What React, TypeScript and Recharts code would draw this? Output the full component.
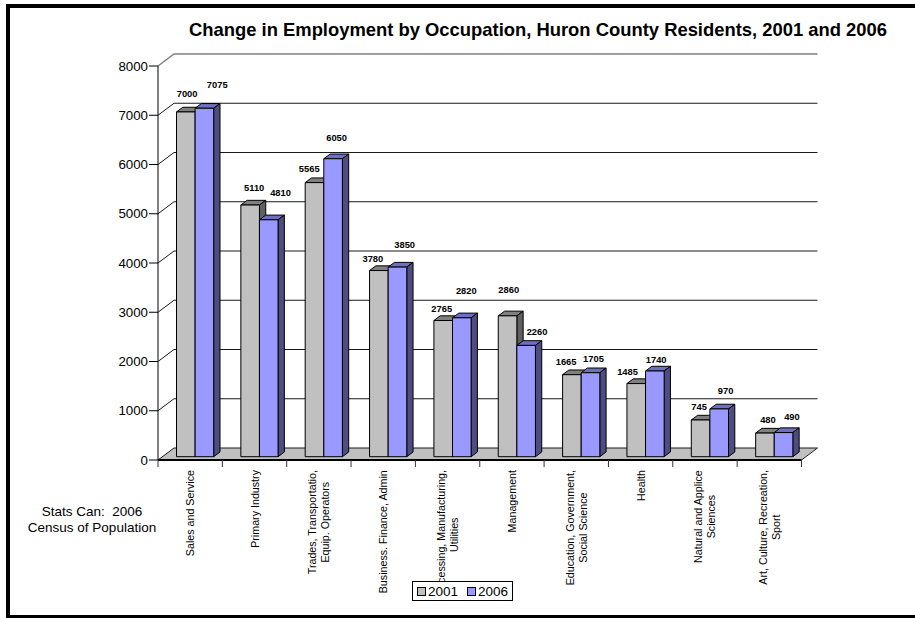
import { BarChart, Bar, XAxis, YAxis, CartesianGrid, Legend, LabelList } from "recharts";

const categories = [
  "Sales and Service",
  "Primary Industry",
  "Trades, Transportatio,\nEquip. Operators",
  "Business. Finance, Admin",
  "Processing, Manufacturing,\nUtilities",
  "Management",
  "Education, Government,\nSocial Science",
  "Health",
  "Natural and Applice\nSciences",
  "Art, Culture, Recreation,\nSport",
];
const values2001 = [7000, 5110, 5565, 3780, 2765, 2860, 1665, 1485, 745, 480];
const values2006 = [7075, 4810, 6050, 3850, 2820, 2260, 1705, 1740, 970, 490];
const yTicks = [0, 1000, 2000, 3000, 4000, 5000, 6000, 7000, 8000];

// the value labels were hand placed in the original, so each one has its own nudge
const nudges2001 = [[1.3, -18.3], [4, -17.3], [-5.3, -13.9], [-6, -11.2], [-1.5, -11.8], [1.2, -26.1], [-5.8, -13], [-8.7, -11.9], [-1.5, -13.3], [3, -13.4]];
const nudges2006 = [[12.8, -23.6], [11.8, -27.1], [3.5, -21], [7.2, -22.4], [4.5, -27.1], [10.9, -13.7], [3, -14], [1.3, -11.3], [6.4, -18.2], [8.4, -15.9]];

const FONT = "'Liberation Sans', Arial, sans-serif";
const PLOT_LEFT = 158;
const PLOT_RIGHT = 801.5;
const PLOT_TOP = 66;
const PLOT_BOTTOM = 460;
const BAND = (PLOT_RIGHT - PLOT_LEFT) / categories.length;
// depth of the fake 3D box, and of each bar inside it
const WALL_DX = 16;
const WALL_DY = -12;
const BAR_SHIFT_X = 4.5;
const BAR_SHIFT_Y = -3.3;
const BAR_DX = 6.3;
const BAR_DY = -4.7;

const tableData = categories.map((name, i) => ({
  name,
  v2001: values2001[i],
  v2006: values2006[i],
}));

const measureCtx = document.createElement("canvas").getContext("2d");

function textWidth(s: string) {
  if (!measureCtx) return s.length * 5;
  measureCtx.font = `10.7px ${FONT}`;
  return measureCtx.measureText(s).width;
}

function GridLine(props: any) {
  const { x1, x2, y1 } = props;
  const bx1 = x1 + WALL_DX;
  const bx2 = x2 + WALL_DX;
  const by = y1 + WALL_DY;
  const isFloor = Math.abs(y1 - PLOT_BOTTOM) < 1;
  const isTop = Math.abs(y1 - PLOT_TOP) < 1;
  return (
    <g key={props.key ?? y1}>
      {isFloor && (
        <polygon
          points={`${x1},${y1} ${x2},${y1} ${bx2},${by} ${bx1},${by}`}
          fill="#c0c0c0"
          stroke="none"
        />
      )}
      <polyline
        points={`${x1},${y1} ${bx1},${by} ${bx2},${by}`}
        fill="none"
        stroke={isTop ? "#808080" : "#1a1a1a"}
        strokeWidth={isTop ? 1.5 : 1}
      />
      {isFloor && <line x1={bx2} y1={by} x2={x2} y2={y1} stroke="#222" />}
    </g>
  );
}

function Bar3D(props: any) {
  const { x, y, width, height, fill, topFill, sideFill } = props;
  const l = x + BAR_SHIFT_X;
  const r = l + width;
  const t = y + BAR_SHIFT_Y;
  const b = t + height;
  return (
    <g stroke="#000" strokeWidth={1} strokeLinejoin="round">
      <polygon
        points={`${l},${t} ${l + BAR_DX},${t + BAR_DY} ${r + BAR_DX},${t + BAR_DY} ${r},${t}`}
        fill={topFill}
      />
      <polygon
        points={`${r},${t} ${r + BAR_DX},${t + BAR_DY} ${r + BAR_DX},${b + BAR_DY} ${r},${b}`}
        fill={sideFill}
      />
      <rect x={l} y={t} width={width} height={height} fill={fill} />
    </g>
  );
}

function valueLabel(nudges: number[][]) {
  return (props: any) => {
    const { x, y, width, value, index } = props;
    const [dx, dy] = nudges[index];
    return (
      <text
        x={x + BAR_SHIFT_X + width / 2 + dx}
        y={y + BAR_SHIFT_Y + dy}
        textAnchor="middle"
        dominantBaseline="central"
        fontFamily={FONT}
        fontSize={9.33}
        fontWeight="bold"
        fill="#000"
      >
        {value}
      </text>
    );
  };
}

function CategoryTick(props: any) {
  const { x, payload, index } = props;
  const lines = String(payload.value).split("\n");
  const left = x - BAND / 2;
  const widest = Math.max(...lines.map(textWidth));
  const cy = 470 + widest / 2;
  return (
    <g>
      <line x1={left} y1={PLOT_BOTTOM} x2={left} y2={PLOT_BOTTOM + 7} stroke="#333" />
      {index === categories.length - 1 && (
        <line x1={left + BAND} y1={PLOT_BOTTOM} x2={left + BAND} y2={PLOT_BOTTOM + 7} stroke="#333" />
      )}
      {lines.map((line, i) => {
        const lx = x + (i - (lines.length - 1) / 2) * 13;
        return (
          <text
            key={line}
            x={lx}
            y={cy}
            transform={`rotate(-90 ${lx} ${cy})`}
            textAnchor="middle"
            dominantBaseline="central"
            fontFamily={FONT}
            fontSize={10.7}
            fill="#000"
          >
            {line}
          </text>
        );
      })}
    </g>
  );
}

function LegendBox({ payload }: any) {
  return (
    <div
      style={{
        boxSizing: "border-box",
        width: 101,
        height: 20,
        border: "1px solid #000",
        background: "#fff",
        display: "flex",
        alignItems: "center",
        paddingLeft: 4,
        fontFamily: FONT,
        fontSize: 13.5,
        color: "#000",
      }}
    >
      {(payload ?? []).map((p: any) => (
        <span key={p.value} style={{ display: "flex", alignItems: "center", marginRight: 9 }}>
          <span
            style={{
              display: "inline-block",
              boxSizing: "border-box",
              width: 9,
              height: 9,
              border: "1px solid #000",
              background: p.color,
              marginRight: 2,
            }}
          />
          {p.value}
        </span>
      ))}
    </div>
  );
}

export default function App() {
  return (
    <div style={{ position: "absolute", left: 0, top: 0, width: 915, height: 618, overflow: "hidden", background: "#fff" }}>
      <div
        style={{
          position: "absolute",
          left: 6,
          top: 4,
          right: 0,
          bottom: 0,
          boxSizing: "border-box",
          borderLeft: "4px solid #000",
          borderTop: "4px solid #000",
          borderBottom: "3px solid #000",
        }}
      />
      <div
        style={{
          position: "absolute",
          left: 188,
          top: 21,
          width: 700,
          textAlign: "center",
          whiteSpace: "nowrap",
          fontFamily: FONT,
          fontSize: 18.4,
          fontWeight: "bold",
          lineHeight: "18px",
          color: "#000",
        }}
      >
        Change in Employment by Occupation, Huron County Residents, 2001 and 2006
      </div>
      <div
        style={{
          position: "absolute",
          left: 12,
          top: 504,
          width: 160,
          textAlign: "center",
          fontFamily: FONT,
          fontSize: 13.5,
          lineHeight: "16px",
          color: "#000",
        }}
      >
        Stats Can:&nbsp; 2006
        <br />
        Census of Population
      </div>
      <BarChart
        width={915}
        height={618}
        data={tableData}
        margin={{ top: PLOT_TOP, right: 915 - PLOT_RIGHT, bottom: 0, left: 0 }}
        barSize={18.6}
        barGap={0}
        style={{ position: "absolute", left: 0, top: 0 }}
      >
        <CartesianGrid horizontal={GridLine as any} vertical={false} />
        <XAxis
          dataKey="name"
          height={618 - PLOT_BOTTOM}
          interval={0}
          tickLine={false}
          tickSize={0}
          axisLine={{ stroke: "#000", strokeWidth: 2 }}
          tick={CategoryTick as any}
        />
        <YAxis
          width={PLOT_LEFT}
          domain={[0, 8000]}
          ticks={yTicks}
          interval={0}
          tickSize={9}
          tickMargin={1}
          axisLine={{ stroke: "#000", strokeWidth: 1 }}
          tickLine={{ stroke: "#000" }}
          tick={{ fontFamily: FONT, fontSize: 13.3, fill: "#000" }}
        />
        <Legend
          layout="horizontal"
          align="center"
          verticalAlign="middle"
          width={101}
          wrapperStyle={{ left: 412, top: 581, width: 101, height: 20 }}
          content={LegendBox as any}
        />
        <Bar
          dataKey="v2001"
          name="2001"
          fill="#c0c0c0"
          isAnimationActive={false}
          shape={(p: any) => <Bar3D {...p} topFill="#808080" sideFill="#606060" />}
        >
          <LabelList dataKey="v2001" content={valueLabel(nudges2001) as any} />
        </Bar>
        <Bar
          dataKey="v2006"
          name="2006"
          fill="#9999ff"
          isAnimationActive={false}
          shape={(p: any) => <Bar3D {...p} topFill="#6f6fbf" sideFill="#4d4d80" />}
        >
          <LabelList dataKey="v2006" content={valueLabel(nudges2006) as any} />
        </Bar>
      </BarChart>
    </div>
  );
}
